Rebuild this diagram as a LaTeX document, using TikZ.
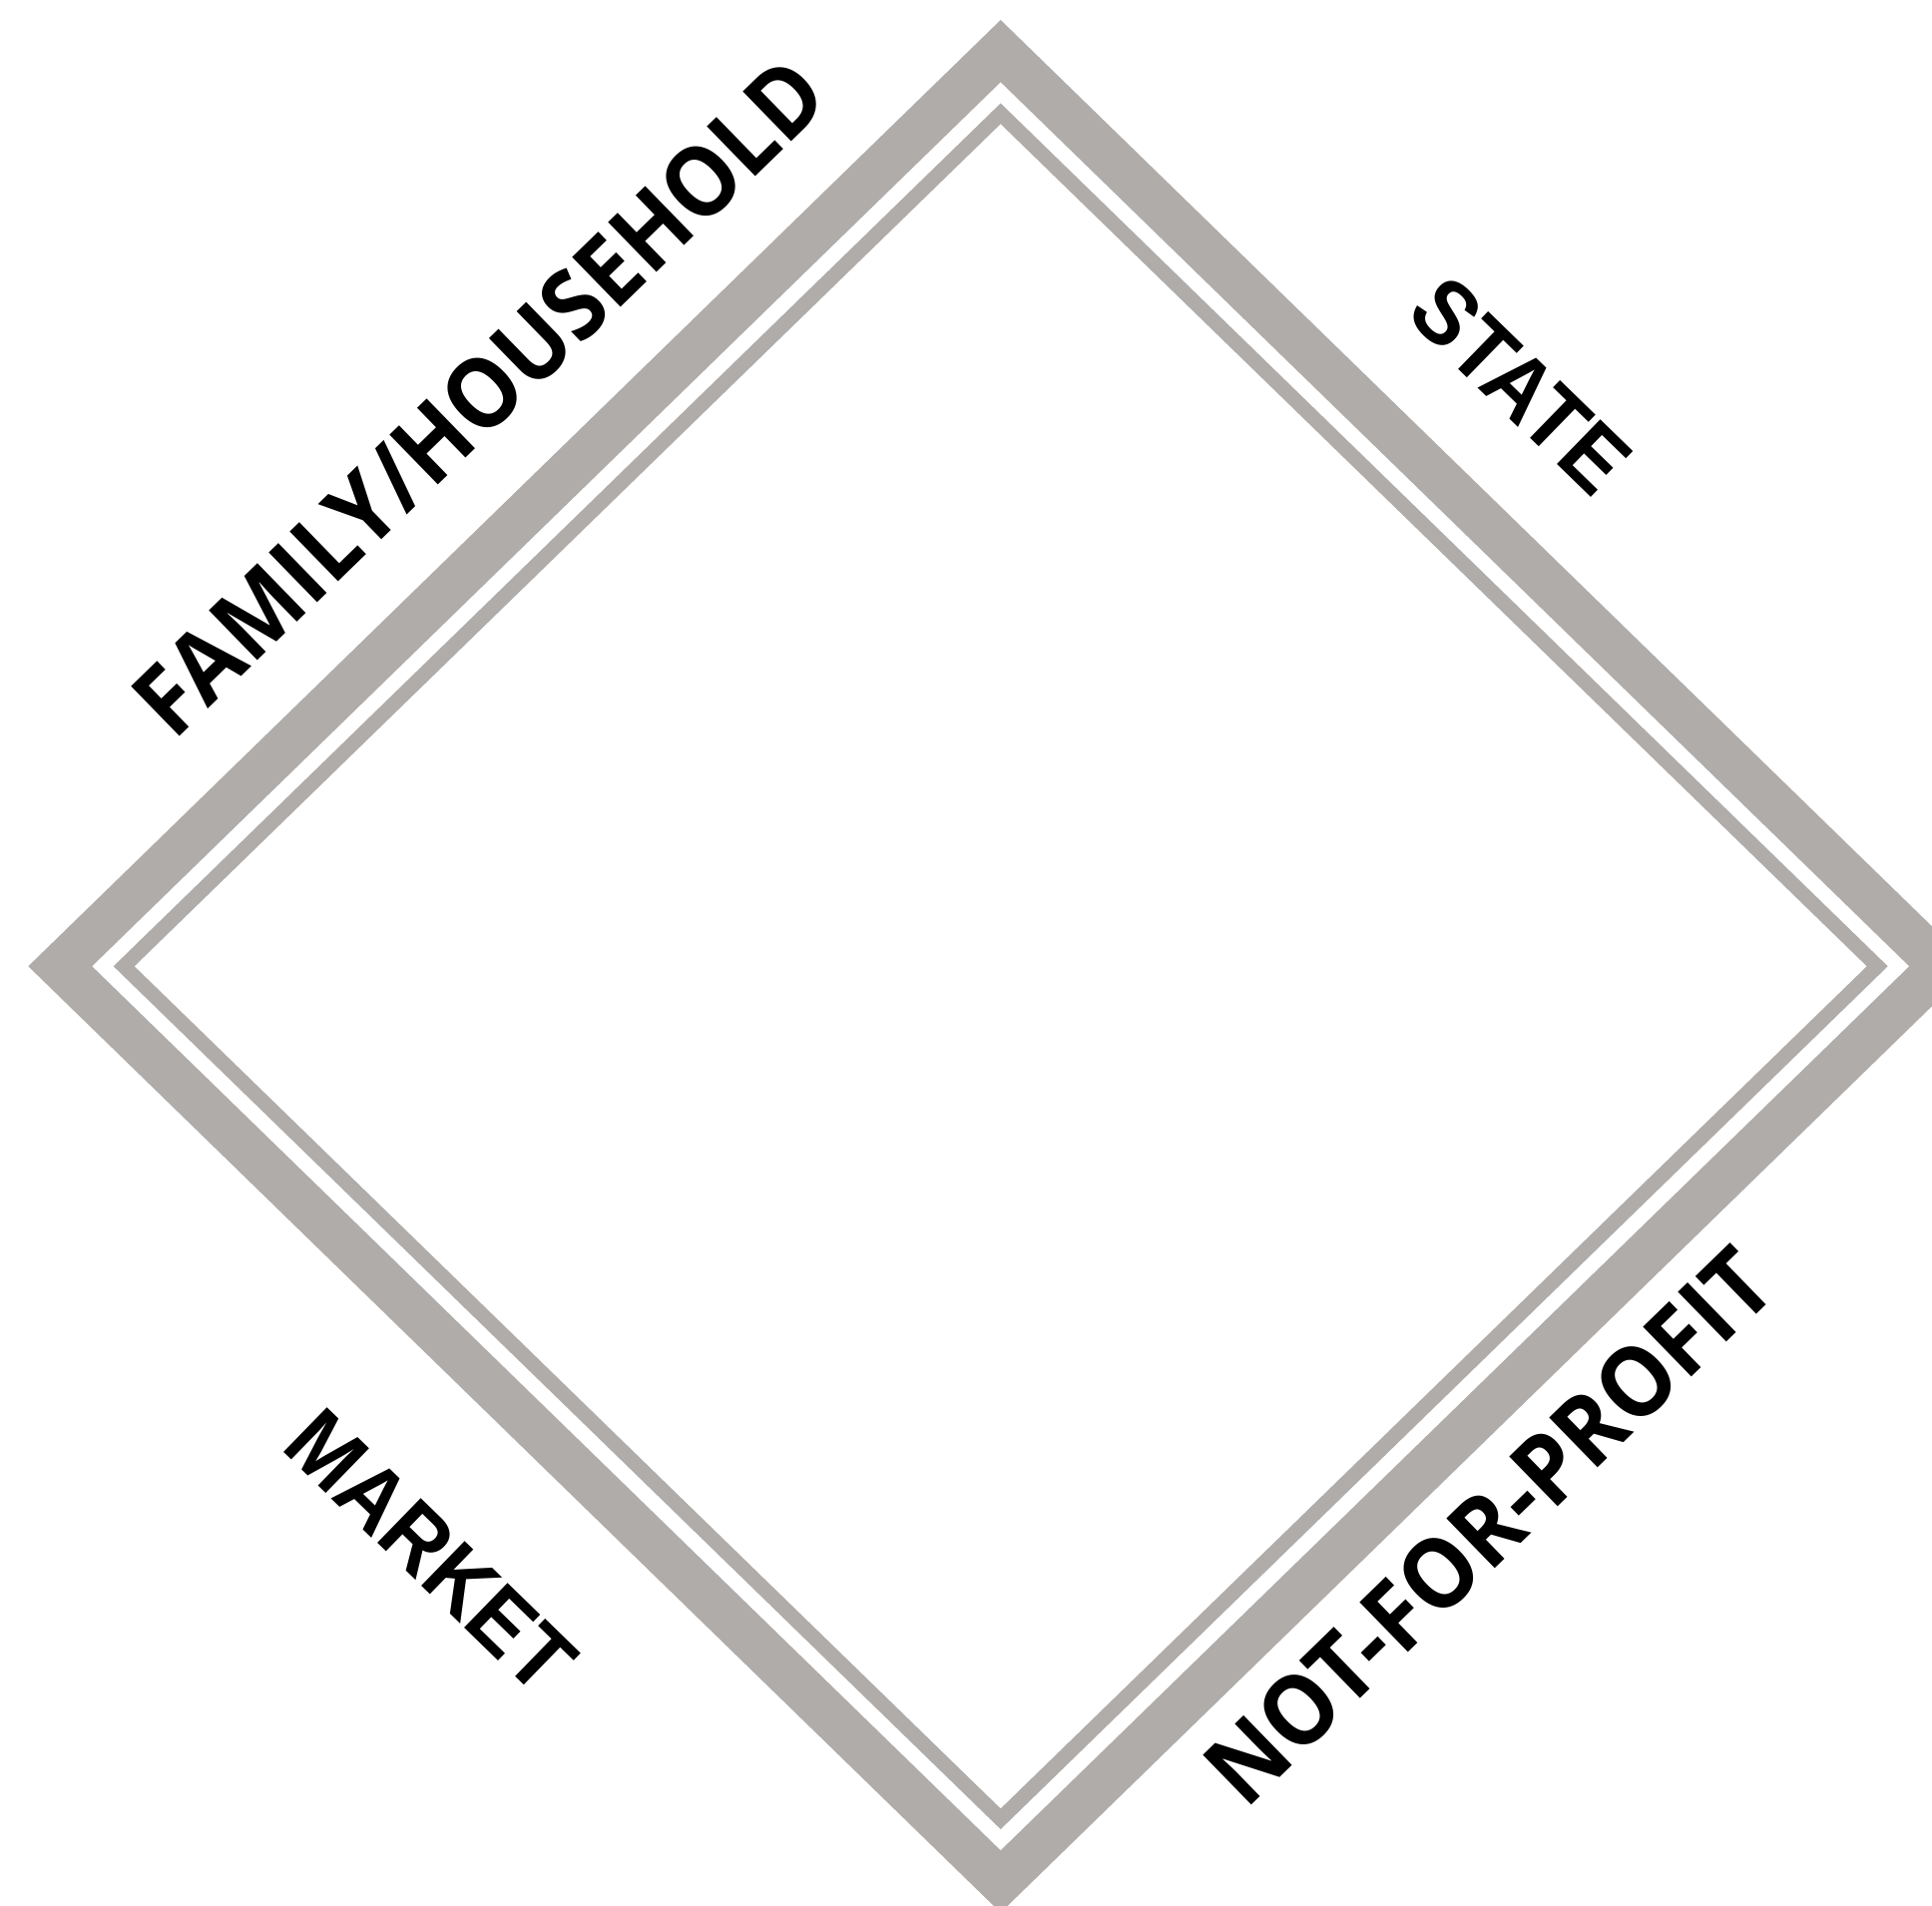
\documentclass[tikz,border=0pt]{standalone}
\usepackage{graphicx}
\usepackage{fontspec}
\newfontfamily\osans{Open Sans}
\newfontfamily\lsans{Liberation Sans}
\definecolor{bandgray}{RGB}{175,172,170}
\tikzset{
  bandfill/.style={fill=bandgray, even odd rule},
  humlbl/.style={inner sep=0pt, anchor=base west, rotate=44.2, font=\osans\bfseries\fontsize{27.7}{28}\selectfont},
  grolbl/.style={inner sep=0pt, rotate=-44.2, font=\lsans\bfseries\fontsize{25.8}{26}\selectfont}
}
\begin{document}
\begin{tikzpicture}[x=0.01cm,y=-0.01cm]
\useasboundingbox (0,0) rectangle (1936,1910);
\clip (0,0) rectangle (1936,1910);
% thick outer band
\fill[bandfill] (1002.7,20) -- (1977.1,968.3) -- (1002.7,1916.6) -- (28.3,968.3) -- cycle
                (1002.7,82.3) -- (1913.2,968.3) -- (1002.7,1854.3) -- (92.2,968.3) -- cycle;
% thin inner band
\fill[bandfill] (1002.7,103.5) -- (1891.7,968.3) -- (1002.7,1833.1) -- (113.7,968.3) -- cycle
                (1002.7,124.2) -- (1870.7,968.3) -- (1002.7,1812.4) -- (134.7,968.3) -- cycle;
\node[humlbl] (fam) at (174.4,743.7) {\resizebox{9.2cm}{\height}{FAMILY/HOUSEHOLD}};
\node[humlbl] (nfp) at (1247.7,1814.7) {\resizebox{7.46cm}{\height}{NOT-FOR-PROFIT}};
\node[grolbl] (state) at (1523.5,386.5) {\scalebox{0.93}[1]{STATE}};
\node[grolbl] (market) at (431.5,1554.5) {\scalebox{0.93}[1]{MARKET}};
\end{tikzpicture}
\end{document}
